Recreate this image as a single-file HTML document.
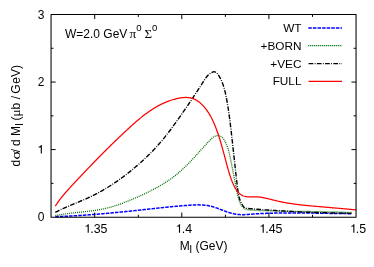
<!DOCTYPE html>
<html><head><meta charset="utf-8"><style>
html,body{margin:0;padding:0;background:#fff;}
svg{display:block;will-change:transform;font-family:"Liberation Sans",sans-serif;font-size:12px;fill:#000;}
.s{font-family:"Liberation Serif",serif;}
</style></head><body>
<svg width="374" height="267" viewBox="0 0 374 267">
<rect width="374" height="267" fill="#fff"/>
<path d="M55.30,216.68 L55.90,216.66 L56.49,216.64 L57.09,216.61 L57.68,216.59 L58.28,216.57 L58.88,216.54 L59.47,216.52 L60.07,216.50 L60.67,216.47 L61.26,216.45 L61.86,216.42 L62.45,216.40 L63.05,216.37 L63.65,216.34 L64.24,216.31 L64.84,216.29 L65.44,216.26 L66.03,216.23 L66.63,216.20 L67.23,216.17 L67.82,216.14 L68.42,216.11 L69.01,216.08 L69.61,216.05 L70.21,216.02 L70.80,215.99 L71.40,215.95 L72.00,215.92 L72.59,215.89 L73.19,215.85 L73.79,215.82 L74.39,215.78 L74.98,215.75 L75.58,215.71 L76.18,215.68 L76.77,215.64 L77.37,215.61 L77.97,215.57 L78.56,215.53 L79.16,215.49 L79.76,215.46 L80.35,215.42 L80.95,215.38 L81.55,215.34 L82.14,215.30 L82.74,215.26 L83.34,215.22 L83.93,215.18 L84.53,215.14 L85.13,215.10 L85.73,215.06 L86.32,215.01 L86.92,214.97 L87.52,214.93 L88.11,214.89 L88.71,214.84 L89.31,214.80 L89.90,214.76 L90.50,214.71 L91.10,214.67 L91.69,214.62 L92.29,214.58 L92.89,214.53 L93.48,214.48 L94.08,214.44 L94.68,214.39 L95.27,214.34 L95.87,214.30 L96.47,214.25 L97.06,214.20 L97.66,214.15 L98.26,214.10 L98.85,214.05 L99.45,214.01 L100.05,213.96 L100.64,213.91 L101.24,213.86 L101.84,213.81 L102.43,213.75 L103.03,213.70 L103.63,213.65 L104.22,213.60 L104.82,213.55 L105.41,213.50 L106.01,213.44 L106.61,213.39 L107.20,213.34 L107.80,213.28 L108.39,213.23 L108.99,213.18 L109.59,213.12 L110.18,213.07 L110.78,213.01 L111.37,212.96 L111.97,212.90 L112.57,212.85 L113.16,212.79 L113.76,212.74 L114.35,212.68 L114.95,212.62 L115.54,212.57 L116.14,212.51 L116.73,212.45 L117.33,212.40 L117.92,212.34 L118.52,212.28 L119.11,212.22 L119.71,212.16 L120.30,212.10 L120.90,212.05 L121.49,211.99 L122.09,211.93 L122.68,211.87 L123.28,211.81 L123.87,211.75 L124.47,211.69 L125.06,211.63 L125.66,211.57 L126.25,211.51 L126.85,211.45 L127.44,211.38 L128.03,211.32 L128.63,211.26 L129.22,211.20 L129.82,211.14 L130.41,211.07 L131.00,211.01 L131.60,210.95 L132.19,210.89 L132.78,210.82 L133.38,210.76 L133.97,210.70 L134.56,210.63 L135.16,210.57 L135.75,210.51 L136.34,210.44 L136.94,210.38 L137.53,210.32 L138.12,210.25 L138.71,210.19 L139.31,210.12 L139.90,210.06 L140.49,209.99 L141.09,209.93 L141.68,209.86 L142.27,209.80 L142.86,209.73 L143.46,209.67 L144.05,209.60 L144.64,209.54 L145.23,209.47 L145.83,209.41 L146.42,209.34 L147.01,209.28 L147.60,209.21 L148.20,209.15 L148.79,209.08 L149.38,209.02 L149.97,208.96 L150.57,208.89 L151.16,208.83 L151.75,208.76 L152.34,208.70 L152.94,208.63 L153.53,208.57 L154.12,208.50 L154.72,208.44 L155.31,208.38 L155.90,208.31 L156.49,208.25 L157.09,208.19 L157.68,208.12 L158.27,208.06 L158.87,208.00 L159.46,207.93 L160.05,207.87 L160.65,207.81 L161.24,207.75 L161.83,207.69 L162.43,207.62 L163.02,207.56 L163.62,207.50 L164.21,207.44 L164.80,207.38 L165.40,207.32 L165.99,207.26 L166.59,207.20 L167.18,207.14 L167.78,207.08 L168.37,207.02 L168.97,206.96 L169.56,206.91 L170.16,206.85 L170.75,206.79 L171.35,206.73 L171.94,206.68 L172.54,206.62 L173.13,206.56 L173.73,206.51 L174.33,206.45 L174.92,206.40 L175.52,206.34 L176.12,206.29 L176.71,206.24 L177.31,206.18 L177.91,206.13 L178.51,206.08 L179.10,206.03 L179.70,205.98 L180.30,205.92 L180.90,205.87 L181.50,205.82 L182.09,205.78 L182.69,205.73 L183.29,205.68 L183.89,205.63 L184.49,205.58 L185.09,205.54 L185.69,205.49 L186.29,205.45 L186.89,205.40 L187.49,205.36 L188.09,205.31 L188.69,205.27 L189.30,205.23 L189.90,205.19 L190.50,205.15 L191.10,205.11 L191.70,205.07 L192.30,205.04 L192.90,205.01 L193.50,204.98 L194.11,204.95 L194.71,204.93 L195.31,204.91 L195.91,204.89 L196.51,204.88 L197.10,204.87 L197.70,204.87 L198.30,204.86 L198.90,204.87 L199.50,204.88 L200.09,204.89 L200.69,204.91 L201.28,204.93 L201.88,204.96 L202.47,204.99 L203.06,205.03 L203.65,205.08 L204.24,205.13 L204.83,205.19 L205.42,205.26 L206.01,205.33 L206.59,205.41 L207.18,205.50 L207.76,205.59 L208.34,205.69 L208.93,205.80 L209.51,205.92 L210.08,206.05 L210.66,206.19 L211.24,206.33 L211.81,206.48 L212.38,206.64 L212.95,206.81 L213.52,206.98 L214.09,207.15 L214.66,207.34 L215.23,207.53 L215.80,207.72 L216.36,207.91 L216.93,208.12 L217.49,208.32 L218.06,208.53 L218.62,208.73 L219.19,208.95 L219.75,209.16 L220.31,209.37 L220.88,209.59 L221.44,209.80 L222.00,210.02 L222.57,210.23 L223.13,210.45 L223.69,210.66 L224.26,210.87 L224.82,211.08 L225.38,211.28 L225.95,211.48 L226.51,211.68 L227.08,211.88 L227.65,212.07 L228.21,212.26 L228.78,212.44 L229.35,212.62 L229.92,212.79 L230.49,212.96 L231.06,213.12 L231.63,213.28 L232.20,213.42 L232.78,213.57 L233.35,213.70 L233.93,213.83 L234.50,213.95 L235.08,214.06 L235.66,214.16 L236.24,214.25 L236.82,214.34 L237.40,214.41 L237.99,214.48 L238.57,214.53 L239.16,214.58 L239.75,214.61 L240.34,214.64 L240.93,214.66 L241.52,214.67 L242.11,214.67 L242.70,214.67 L243.30,214.66 L243.89,214.65 L244.49,214.63 L245.09,214.60 L245.68,214.57 L246.28,214.54 L246.88,214.50 L247.48,214.46 L248.07,214.42 L248.67,214.38 L249.27,214.34 L249.87,214.29 L250.47,214.25 L251.07,214.20 L251.67,214.16 L252.27,214.12 L252.87,214.07 L253.47,214.03 L254.07,213.99 L254.67,213.95 L255.27,213.91 L255.87,213.88 L256.46,213.84 L257.06,213.80 L257.66,213.77 L258.26,213.73 L258.86,213.70 L259.46,213.67 L260.06,213.64 L260.66,213.60 L261.26,213.57 L261.85,213.54 L262.45,213.52 L263.05,213.49 L263.65,213.46 L264.25,213.43 L264.85,213.41 L265.45,213.38 L266.04,213.36 L266.64,213.33 L267.24,213.31 L267.84,213.29 L268.44,213.27 L269.03,213.25 L269.63,213.23 L270.23,213.21 L270.83,213.19 L271.43,213.17 L272.03,213.15 L272.62,213.14 L273.22,213.12 L273.82,213.10 L274.42,213.09 L275.02,213.07 L275.61,213.06 L276.21,213.05 L276.81,213.04 L277.41,213.02 L278.00,213.01 L278.60,213.00 L279.20,212.99 L279.80,212.98 L280.40,212.97 L280.99,212.96 L281.59,212.95 L282.19,212.95 L282.79,212.94 L283.38,212.93 L283.98,212.93 L284.58,212.92 L285.18,212.92 L285.77,212.91 L286.37,212.91 L286.97,212.90 L287.57,212.90 L288.16,212.90 L288.76,212.90 L289.36,212.89 L289.95,212.89 L290.55,212.89 L291.15,212.89 L291.75,212.89 L292.34,212.89 L292.94,212.89 L293.54,212.89 L294.14,212.89 L294.73,212.90 L295.33,212.90 L295.93,212.90 L296.52,212.90 L297.12,212.91 L297.72,212.91 L298.32,212.91 L298.91,212.92 L299.51,212.92 L300.11,212.93 L300.70,212.93 L301.30,212.94 L301.90,212.94 L302.50,212.95 L303.09,212.95 L303.69,212.96 L304.29,212.97 L304.89,212.97 L305.48,212.98 L306.08,212.99 L306.68,213.00 L307.27,213.00 L307.87,213.01 L308.47,213.02 L309.07,213.03 L309.66,213.04 L310.26,213.05 L310.86,213.06 L311.45,213.06 L312.05,213.07 L312.65,213.08 L313.25,213.09 L313.84,213.10 L314.44,213.11 L315.04,213.12 L315.63,213.13 L316.23,213.14 L316.83,213.15 L317.43,213.16 L318.02,213.17 L318.62,213.18 L319.22,213.19 L319.82,213.21 L320.41,213.22 L321.01,213.23 L321.61,213.24 L322.20,213.25 L322.80,213.26 L323.40,213.27 L324.00,213.28 L324.59,213.29 L325.19,213.30 L325.79,213.31 L326.39,213.32 L326.98,213.34 L327.58,213.35 L328.18,213.36 L328.78,213.37 L329.37,213.38 L329.97,213.39 L330.57,213.40 L331.17,213.41 L331.76,213.42 L332.36,213.43 L332.96,213.44 L333.56,213.45 L334.16,213.46 L334.75,213.47 L335.35,213.48 L335.95,213.49 L336.55,213.50 L337.15,213.51 L337.74,213.52 L338.34,213.53 L338.94,213.54 L339.54,213.54 L340.14,213.55 L340.73,213.56 L341.33,213.57 L341.93,213.58 L342.53,213.58 L343.13,213.59 L343.72,213.60 L344.32,213.61 L344.92,213.61 L345.52,213.62 L346.12,213.62 L346.72,213.63 L347.31,213.64 L347.91,213.64 L348.51,213.65 L349.11,213.65 L349.71,213.66 L350.31,213.66 L350.91,213.66 L351.51,213.67" fill="none" stroke="#0000ff" stroke-width="1.5" stroke-dasharray="3.5 1.1"/>
<path d="M55.34,215.64 L56.06,215.49 L56.78,215.34 L57.51,215.20 L58.24,215.07 L58.97,214.93 L59.70,214.80 L60.43,214.68 L61.16,214.55 L61.90,214.44 L62.64,214.32 L63.38,214.21 L64.12,214.10 L64.86,213.99 L65.60,213.89 L66.34,213.78 L67.09,213.68 L67.83,213.59 L68.58,213.49 L69.32,213.40 L70.07,213.31 L70.82,213.22 L71.57,213.13 L72.32,213.04 L73.07,212.96 L73.82,212.87 L74.58,212.79 L75.33,212.71 L76.08,212.63 L76.83,212.54 L77.59,212.46 L78.34,212.38 L79.10,212.30 L79.85,212.22 L80.61,212.14 L81.36,212.06 L82.11,211.98 L82.87,211.90 L83.62,211.82 L84.38,211.73 L85.13,211.65 L85.89,211.56 L86.64,211.48 L87.39,211.39 L88.15,211.30 L88.90,211.21 L89.65,211.12 L90.40,211.02 L91.15,210.92 L91.90,210.83 L92.65,210.72 L93.40,210.62 L94.15,210.51 L94.90,210.40 L95.64,210.29 L96.39,210.18 L97.13,210.06 L97.87,209.94 L98.62,209.81 L99.36,209.68 L100.10,209.55 L100.83,209.41 L101.57,209.27 L102.31,209.13 L103.04,208.98 L103.77,208.83 L104.50,208.67 L105.23,208.50 L105.96,208.34 L106.69,208.16 L107.41,207.99 L108.13,207.80 L108.85,207.62 L109.57,207.42 L110.29,207.23 L111.01,207.03 L111.72,206.82 L112.44,206.61 L113.15,206.40 L113.86,206.18 L114.57,205.96 L115.28,205.73 L115.99,205.50 L116.69,205.27 L117.40,205.03 L118.10,204.79 L118.81,204.54 L119.51,204.30 L120.21,204.05 L120.91,203.79 L121.61,203.53 L122.31,203.28 L123.01,203.01 L123.71,202.75 L124.40,202.48 L125.10,202.21 L125.80,201.94 L126.49,201.66 L127.19,201.38 L127.88,201.10 L128.58,200.82 L129.27,200.54 L129.97,200.25 L130.66,199.96 L131.35,199.67 L132.05,199.38 L132.74,199.09 L133.43,198.80 L134.13,198.50 L134.82,198.21 L135.51,197.91 L136.21,197.61 L136.90,197.31 L137.59,197.01 L138.28,196.70 L138.97,196.39 L139.67,196.09 L140.36,195.78 L141.05,195.46 L141.73,195.15 L142.42,194.84 L143.11,194.52 L143.80,194.20 L144.48,193.88 L145.17,193.55 L145.85,193.23 L146.54,192.90 L147.22,192.57 L147.90,192.24 L148.58,191.91 L149.26,191.57 L149.93,191.23 L150.61,190.89 L151.28,190.55 L151.96,190.20 L152.63,189.85 L153.30,189.50 L153.97,189.15 L154.64,188.79 L155.30,188.43 L155.97,188.07 L156.63,187.71 L157.29,187.34 L157.95,186.97 L158.60,186.60 L159.26,186.23 L159.91,185.85 L160.56,185.47 L161.21,185.09 L161.86,184.70 L162.50,184.31 L163.14,183.92 L163.78,183.52 L164.42,183.13 L165.06,182.73 L165.69,182.32 L166.32,181.91 L166.95,181.50 L167.57,181.09 L168.20,180.67 L168.82,180.25 L169.43,179.83 L170.05,179.40 L170.66,178.97 L171.27,178.53 L171.87,178.10 L172.48,177.65 L173.08,177.21 L173.67,176.76 L174.27,176.31 L174.86,175.85 L175.45,175.39 L176.03,174.93 L176.61,174.46 L177.19,173.99 L177.76,173.52 L178.33,173.04 L178.90,172.55 L179.46,172.07 L180.02,171.58 L180.58,171.09 L181.14,170.59 L181.69,170.09 L182.24,169.59 L182.79,169.08 L183.33,168.57 L183.87,168.06 L184.41,167.54 L184.95,167.03 L185.49,166.51 L186.02,165.98 L186.55,165.46 L187.08,164.93 L187.60,164.40 L188.13,163.87 L188.65,163.33 L189.17,162.79 L189.69,162.26 L190.21,161.71 L190.73,161.17 L191.25,160.63 L191.76,160.08 L192.27,159.53 L192.79,158.98 L193.30,158.43 L193.81,157.88 L194.32,157.33 L194.83,156.77 L195.34,156.22 L195.84,155.66 L196.35,155.10 L196.86,154.54 L197.36,153.98 L197.87,153.42 L198.38,152.86 L198.88,152.30 L199.39,151.74 L199.89,151.18 L200.40,150.62 L200.91,150.05 L201.42,149.49 L201.92,148.93 L202.43,148.37 L202.94,147.80 L203.45,147.24 L203.96,146.68 L204.47,146.12 L204.98,145.56 L205.49,145.00 L206.01,144.44 L206.52,143.88 L207.04,143.32 L207.56,142.76 L208.08,142.21 L208.60,141.65 L209.12,141.10 L209.65,140.54 L210.17,139.99 L210.70,139.45 L211.24,138.91 L211.78,138.40 L212.34,137.91 L212.91,137.45 L213.49,137.03 L214.10,136.66 L214.72,136.34 L215.37,136.08 L216.05,135.88 L216.76,135.75 L217.49,135.71 L218.26,135.74 L219.05,135.86 L219.83,136.07 L220.58,136.35 L221.28,136.70 L221.92,137.13 L222.49,137.63 L223.00,138.18 L223.47,138.78 L223.89,139.41 L224.29,140.06 L224.67,140.71 L225.03,141.38 L225.37,142.05 L225.71,142.73 L226.02,143.41 L226.33,144.09 L226.62,144.78 L226.90,145.48 L227.17,146.18 L227.43,146.88 L227.67,147.59 L227.91,148.30 L228.13,149.02 L228.35,149.74 L228.56,150.46 L228.76,151.18 L228.95,151.91 L229.14,152.64 L229.32,153.37 L229.50,154.10 L229.66,154.83 L229.83,155.57 L229.99,156.31 L230.15,157.04 L230.30,157.78 L230.45,158.52 L230.60,159.26 L230.74,160.00 L230.89,160.74 L231.04,161.48 L231.18,162.22 L231.32,162.95 L231.47,163.69 L231.61,164.43 L231.76,165.17 L231.90,165.91 L232.04,166.64 L232.18,167.38 L232.33,168.12 L232.47,168.85 L232.61,169.59 L232.76,170.32 L232.90,171.06 L233.04,171.80 L233.19,172.53 L233.33,173.27 L233.48,174.00 L233.62,174.74 L233.77,175.47 L233.91,176.21 L234.06,176.94 L234.21,177.68 L234.36,178.41 L234.51,179.15 L234.65,179.88 L234.80,180.62 L234.95,181.35 L235.10,182.09 L235.25,182.83 L235.39,183.56 L235.54,184.30 L235.69,185.04 L235.83,185.78 L235.98,186.51 L236.12,187.25 L236.26,187.99 L236.40,188.73 L236.54,189.47 L236.68,190.21 L236.82,190.96 L236.96,191.70 L237.10,192.44 L237.24,193.18 L237.39,193.92 L237.54,194.66 L237.70,195.40 L237.86,196.13 L238.04,196.86 L238.22,197.59 L238.42,198.32 L238.63,199.04 L238.85,199.75 L239.09,200.46 L239.35,201.17 L239.62,201.87 L239.92,202.56 L240.23,203.25 L240.57,203.93 L240.92,204.60 L241.31,205.25 L241.72,205.89 L242.16,206.50 L242.64,207.07 L243.15,207.59 L243.70,208.06 L244.29,208.48 L244.93,208.82 L245.61,209.10 L246.33,209.32 L247.07,209.49 L247.82,209.63 L248.58,209.75 L249.34,209.86 L250.10,209.95 L250.86,210.03 L251.62,210.10 L252.37,210.16 L253.12,210.22 L253.88,210.27 L254.63,210.31 L255.38,210.35 L256.13,210.38 L256.88,210.42 L257.63,210.45 L258.38,210.48 L259.13,210.50 L259.88,210.53 L260.63,210.56 L261.38,210.59 L262.13,210.61 L262.88,210.64 L263.63,210.66 L264.38,210.69 L265.13,210.71 L265.88,210.73 L266.63,210.76 L267.38,210.78 L268.13,210.80 L268.88,210.82 L269.63,210.84 L270.38,210.86 L271.13,210.88 L271.88,210.90 L272.63,210.92 L273.38,210.94 L274.13,210.95 L274.88,210.97 L275.63,210.99 L276.38,211.01 L277.14,211.02 L277.89,211.04 L278.64,211.05 L279.39,211.07 L280.14,211.08 L280.89,211.10 L281.64,211.11 L282.39,211.12 L283.14,211.14 L283.89,211.15 L284.64,211.16 L285.40,211.18 L286.15,211.19 L286.90,211.20 L287.65,211.21 L288.40,211.22 L289.15,211.24 L289.90,211.25 L290.65,211.26 L291.40,211.27 L292.16,211.28 L292.91,211.29 L293.66,211.30 L294.41,211.31 L295.16,211.32 L295.91,211.33 L296.66,211.34 L297.42,211.35 L298.17,211.36 L298.92,211.37 L299.67,211.38 L300.42,211.39 L301.17,211.40 L301.92,211.41 L302.67,211.42 L303.43,211.42 L304.18,211.43 L304.93,211.44 L305.68,211.45 L306.43,211.46 L307.18,211.47 L307.93,211.48 L308.69,211.49 L309.44,211.50 L310.19,211.51 L310.94,211.52 L311.69,211.53 L312.44,211.54 L313.20,211.55 L313.95,211.56 L314.70,211.57 L315.45,211.58 L316.20,211.59 L316.95,211.60 L317.70,211.62 L318.46,211.63 L319.21,211.64 L319.96,211.65 L320.71,211.66 L321.46,211.68 L322.21,211.69 L322.96,211.70 L323.71,211.72 L324.47,211.73 L325.22,211.74 L325.97,211.76 L326.72,211.77 L327.47,211.79 L328.22,211.80 L328.97,211.82 L329.72,211.84 L330.48,211.85 L331.23,211.87 L331.98,211.89 L332.73,211.90 L333.48,211.92 L334.23,211.94 L334.98,211.96 L335.73,211.98 L336.48,212.00 L337.24,212.02 L337.99,212.04 L338.74,212.06 L339.49,212.09 L340.24,212.11 L340.99,212.13 L341.74,212.15 L342.49,212.18 L343.24,212.20 L343.99,212.23 L344.74,212.26 L345.49,212.28 L346.25,212.31 L347.00,212.34 L347.75,212.37 L348.50,212.40 L349.25,212.43 L350.00,212.46 L350.75,212.49 L351.50,212.52" fill="none" stroke="#007000" stroke-width="1.3" stroke-dasharray="1 1"/>
<path d="M55.27,212.42 L56.09,211.99 L56.92,211.56 L57.75,211.13 L58.58,210.71 L59.42,210.30 L60.26,209.89 L61.10,209.49 L61.94,209.10 L62.79,208.70 L63.64,208.32 L64.49,207.93 L65.34,207.55 L66.19,207.17 L67.05,206.80 L67.91,206.43 L68.77,206.06 L69.62,205.70 L70.49,205.33 L71.35,204.97 L72.21,204.61 L73.07,204.25 L73.94,203.89 L74.80,203.53 L75.67,203.18 L76.53,202.82 L77.39,202.46 L78.26,202.10 L79.12,201.74 L79.99,201.38 L80.85,201.02 L81.71,200.66 L82.57,200.29 L83.43,199.92 L84.29,199.55 L85.15,199.18 L86.00,198.80 L86.86,198.42 L87.71,198.04 L88.56,197.65 L89.41,197.26 L90.25,196.86 L91.10,196.46 L91.94,196.05 L92.78,195.64 L93.61,195.23 L94.45,194.81 L95.28,194.38 L96.11,193.95 L96.94,193.52 L97.76,193.08 L98.58,192.64 L99.41,192.19 L100.22,191.74 L101.04,191.28 L101.85,190.82 L102.66,190.36 L103.47,189.89 L104.28,189.42 L105.08,188.94 L105.89,188.46 L106.69,187.98 L107.48,187.49 L108.28,187.00 L109.07,186.50 L109.86,186.00 L110.65,185.50 L111.44,184.99 L112.22,184.48 L113.00,183.97 L113.78,183.45 L114.56,182.93 L115.33,182.41 L116.11,181.88 L116.88,181.34 L117.64,180.81 L118.41,180.27 L119.17,179.73 L119.93,179.18 L120.69,178.64 L121.45,178.09 L122.20,177.53 L122.96,176.97 L123.71,176.41 L124.46,175.85 L125.20,175.28 L125.94,174.71 L126.69,174.14 L127.42,173.57 L128.16,172.99 L128.90,172.41 L129.63,171.83 L130.36,171.24 L131.09,170.65 L131.81,170.06 L132.54,169.47 L133.26,168.87 L133.98,168.27 L134.69,167.67 L135.41,167.07 L136.12,166.46 L136.83,165.86 L137.54,165.24 L138.24,164.63 L138.95,164.02 L139.65,163.40 L140.34,162.78 L141.04,162.15 L141.73,161.53 L142.42,160.90 L143.11,160.26 L143.80,159.63 L144.48,158.99 L145.16,158.35 L145.84,157.71 L146.51,157.07 L147.18,156.42 L147.85,155.77 L148.52,155.11 L149.18,154.46 L149.84,153.80 L150.50,153.14 L151.16,152.47 L151.81,151.81 L152.46,151.14 L153.11,150.46 L153.75,149.79 L154.39,149.11 L155.03,148.43 L155.66,147.74 L156.29,147.05 L156.92,146.36 L157.55,145.67 L158.17,144.97 L158.79,144.27 L159.40,143.57 L160.01,142.86 L160.62,142.16 L161.23,141.44 L161.83,140.73 L162.43,140.01 L163.03,139.29 L163.62,138.57 L164.21,137.84 L164.80,137.12 L165.38,136.39 L165.96,135.65 L166.54,134.92 L167.12,134.18 L167.69,133.44 L168.27,132.70 L168.84,131.96 L169.40,131.21 L169.97,130.46 L170.53,129.71 L171.09,128.96 L171.65,128.21 L172.21,127.46 L172.76,126.70 L173.32,125.95 L173.87,125.19 L174.42,124.43 L174.97,123.68 L175.52,122.92 L176.06,122.16 L176.61,121.39 L177.15,120.63 L177.69,119.87 L178.23,119.11 L178.77,118.34 L179.31,117.58 L179.85,116.82 L180.39,116.05 L180.92,115.29 L181.46,114.52 L181.99,113.75 L182.53,112.99 L183.06,112.22 L183.59,111.45 L184.12,110.68 L184.65,109.92 L185.18,109.15 L185.71,108.38 L186.23,107.61 L186.76,106.84 L187.28,106.07 L187.81,105.29 L188.33,104.52 L188.85,103.75 L189.38,102.97 L189.90,102.20 L190.42,101.43 L190.94,100.65 L191.46,99.88 L191.98,99.10 L192.49,98.32 L193.01,97.54 L193.53,96.77 L194.04,95.99 L194.56,95.21 L195.07,94.43 L195.59,93.65 L196.10,92.87 L196.61,92.09 L197.13,91.30 L197.64,90.52 L198.15,89.74 L198.66,88.95 L199.17,88.17 L199.68,87.38 L200.19,86.60 L200.70,85.81 L201.21,85.02 L201.71,84.23 L202.22,83.44 L202.73,82.65 L203.23,81.86 L203.74,81.07 L204.25,80.28 L204.76,79.49 L205.28,78.71 L205.81,77.95 L206.37,77.19 L206.95,76.46 L207.56,75.75 L208.20,75.07 L208.89,74.43 L209.62,73.82 L210.40,73.26 L211.24,72.74 L212.14,72.27 L213.06,71.92 L213.94,71.75 L214.77,71.82 L215.53,72.09 L216.23,72.54 L216.88,73.13 L217.49,73.82 L218.06,74.59 L218.60,75.40 L219.11,76.21 L219.60,77.04 L220.07,77.87 L220.51,78.71 L220.93,79.56 L221.34,80.41 L221.72,81.27 L222.08,82.14 L222.43,83.01 L222.76,83.88 L223.07,84.76 L223.37,85.65 L223.66,86.54 L223.93,87.43 L224.19,88.33 L224.44,89.23 L224.67,90.13 L224.90,91.04 L225.12,91.95 L225.33,92.86 L225.53,93.77 L225.73,94.69 L225.92,95.60 L226.11,96.52 L226.29,97.44 L226.47,98.36 L226.64,99.28 L226.81,100.20 L226.98,101.12 L227.15,102.04 L227.31,102.96 L227.46,103.88 L227.62,104.81 L227.77,105.73 L227.92,106.66 L228.07,107.58 L228.21,108.51 L228.35,109.43 L228.49,110.36 L228.62,111.29 L228.76,112.22 L228.89,113.14 L229.02,114.07 L229.15,115.00 L229.27,115.93 L229.40,116.85 L229.52,117.78 L229.64,118.71 L229.76,119.64 L229.88,120.57 L230.00,121.50 L230.11,122.42 L230.23,123.35 L230.34,124.28 L230.45,125.21 L230.57,126.14 L230.68,127.06 L230.79,127.99 L230.90,128.92 L231.01,129.84 L231.12,130.77 L231.23,131.70 L231.33,132.62 L231.44,133.55 L231.55,134.48 L231.65,135.40 L231.76,136.33 L231.86,137.26 L231.97,138.18 L232.07,139.11 L232.17,140.03 L232.28,140.96 L232.38,141.89 L232.48,142.81 L232.58,143.74 L232.69,144.66 L232.79,145.59 L232.89,146.52 L232.99,147.44 L233.09,148.37 L233.19,149.30 L233.29,150.22 L233.39,151.15 L233.49,152.07 L233.59,153.00 L233.69,153.93 L233.79,154.86 L233.89,155.78 L234.00,156.71 L234.10,157.64 L234.20,158.57 L234.30,159.49 L234.40,160.42 L234.50,161.35 L234.60,162.28 L234.70,163.21 L234.80,164.14 L234.91,165.06 L235.01,165.99 L235.11,166.92 L235.21,167.85 L235.32,168.78 L235.42,169.71 L235.52,170.65 L235.63,171.58 L235.73,172.51 L235.84,173.44 L235.95,174.37 L236.05,175.30 L236.16,176.24 L236.27,177.17 L236.38,178.10 L236.49,179.04 L236.60,179.97 L236.71,180.91 L236.82,181.84 L236.93,182.78 L237.04,183.72 L237.16,184.65 L237.27,185.59 L237.38,186.53 L237.50,187.47 L237.62,188.40 L237.74,189.34 L237.87,190.28 L238.00,191.21 L238.14,192.14 L238.30,193.07 L238.46,193.99 L238.64,194.91 L238.84,195.82 L239.05,196.72 L239.28,197.61 L239.53,198.50 L239.81,199.37 L240.11,200.24 L240.44,201.09 L240.79,201.94 L241.18,202.76 L241.60,203.58 L242.05,204.38 L242.54,205.17 L243.06,205.93 L243.63,206.67 L244.28,207.31 L245.03,207.80 L245.88,208.13 L246.80,208.34 L247.77,208.47 L248.74,208.56 L249.71,208.65 L250.67,208.73 L251.62,208.81 L252.56,208.89 L253.50,208.96 L254.43,209.03 L255.35,209.10 L256.28,209.17 L257.20,209.23 L258.13,209.30 L259.05,209.37 L259.98,209.43 L260.91,209.50 L261.84,209.57 L262.77,209.63 L263.70,209.70 L264.63,209.76 L265.56,209.83 L266.50,209.89 L267.43,209.96 L268.36,210.02 L269.30,210.09 L270.23,210.15 L271.17,210.21 L272.10,210.28 L273.04,210.34 L273.97,210.40 L274.91,210.46 L275.84,210.52 L276.77,210.59 L277.71,210.65 L278.64,210.71 L279.58,210.77 L280.51,210.82 L281.44,210.88 L282.38,210.94 L283.31,211.00 L284.24,211.05 L285.18,211.11 L286.11,211.17 L287.04,211.22 L287.98,211.27 L288.91,211.33 L289.84,211.38 L290.77,211.43 L291.71,211.48 L292.64,211.53 L293.57,211.58 L294.51,211.63 L295.44,211.68 L296.37,211.73 L297.31,211.77 L298.24,211.82 L299.17,211.86 L300.11,211.90 L301.04,211.95 L301.97,211.99 L302.91,212.03 L303.84,212.07 L304.77,212.11 L305.71,212.14 L306.64,212.18 L307.58,212.22 L308.51,212.25 L309.44,212.29 L310.38,212.32 L311.31,212.36 L312.25,212.39 L313.18,212.42 L314.11,212.45 L315.05,212.48 L315.98,212.51 L316.92,212.54 L317.85,212.57 L318.79,212.60 L319.72,212.63 L320.66,212.65 L321.59,212.68 L322.53,212.71 L323.46,212.73 L324.40,212.76 L325.33,212.78 L326.26,212.81 L327.20,212.83 L328.13,212.85 L329.07,212.88 L330.00,212.90 L330.94,212.92 L331.87,212.95 L332.81,212.97 L333.74,212.99 L334.68,213.01 L335.61,213.03 L336.55,213.06 L337.48,213.08 L338.42,213.10 L339.35,213.12 L340.29,213.14 L341.22,213.16 L342.16,213.18 L343.09,213.21 L344.03,213.23 L344.96,213.25 L345.89,213.27 L346.83,213.29 L347.76,213.31 L348.70,213.33 L349.63,213.36 L350.57,213.38 L351.50,213.40" fill="none" stroke="#000" stroke-width="1.4" stroke-dasharray="4.7 1.35 0.85 1.35"/>
<path d="M55.34,206.04 L55.79,205.34 L56.24,204.65 L56.69,203.97 L57.16,203.29 L57.62,202.61 L58.10,201.94 L58.57,201.28 L59.06,200.62 L59.55,199.96 L60.04,199.31 L60.54,198.67 L61.04,198.02 L61.54,197.39 L62.05,196.75 L62.57,196.12 L63.09,195.49 L63.61,194.87 L64.13,194.24 L64.66,193.62 L65.19,193.01 L65.72,192.39 L66.26,191.78 L66.80,191.17 L67.34,190.56 L67.88,189.96 L68.43,189.35 L68.97,188.75 L69.52,188.15 L70.07,187.55 L70.62,186.95 L71.17,186.35 L71.73,185.75 L72.28,185.15 L72.83,184.56 L73.39,183.96 L73.94,183.36 L74.50,182.77 L75.06,182.17 L75.61,181.57 L76.17,180.98 L76.73,180.38 L77.29,179.78 L77.84,179.19 L78.40,178.59 L78.96,178.00 L79.52,177.40 L80.08,176.81 L80.64,176.21 L81.20,175.62 L81.77,175.02 L82.33,174.43 L82.89,173.84 L83.45,173.24 L84.02,172.65 L84.58,172.06 L85.14,171.46 L85.71,170.87 L86.27,170.28 L86.84,169.69 L87.40,169.10 L87.97,168.51 L88.53,167.92 L89.10,167.33 L89.67,166.74 L90.23,166.15 L90.80,165.56 L91.37,164.97 L91.94,164.39 L92.51,163.80 L93.07,163.21 L93.64,162.63 L94.21,162.04 L94.78,161.46 L95.35,160.87 L95.92,160.29 L96.49,159.71 L97.06,159.12 L97.63,158.54 L98.20,157.96 L98.78,157.38 L99.35,156.80 L99.92,156.22 L100.49,155.64 L101.06,155.06 L101.64,154.48 L102.21,153.90 L102.78,153.32 L103.36,152.75 L103.93,152.17 L104.51,151.59 L105.08,151.02 L105.66,150.44 L106.24,149.87 L106.81,149.30 L107.39,148.72 L107.97,148.15 L108.55,147.58 L109.13,147.01 L109.70,146.44 L110.28,145.86 L110.87,145.29 L111.45,144.72 L112.03,144.16 L112.61,143.59 L113.19,143.02 L113.78,142.45 L114.36,141.88 L114.95,141.32 L115.53,140.75 L116.12,140.19 L116.71,139.62 L117.29,139.06 L117.88,138.49 L118.47,137.93 L119.06,137.37 L119.65,136.80 L120.24,136.24 L120.84,135.68 L121.43,135.12 L122.02,134.56 L122.62,134.00 L123.21,133.44 L123.81,132.88 L124.41,132.32 L125.01,131.76 L125.61,131.20 L126.21,130.65 L126.81,130.09 L127.41,129.53 L128.01,128.98 L128.62,128.42 L129.22,127.87 L129.83,127.31 L130.43,126.76 L131.04,126.21 L131.65,125.66 L132.26,125.11 L132.88,124.56 L133.49,124.01 L134.10,123.47 L134.72,122.93 L135.34,122.38 L135.96,121.84 L136.58,121.31 L137.20,120.77 L137.83,120.24 L138.45,119.71 L139.08,119.19 L139.71,118.66 L140.34,118.14 L140.98,117.63 L141.61,117.11 L142.25,116.60 L142.89,116.10 L143.53,115.59 L144.18,115.10 L144.82,114.60 L145.47,114.11 L146.12,113.63 L146.78,113.14 L147.43,112.67 L148.09,112.20 L148.76,111.73 L149.42,111.27 L150.09,110.81 L150.76,110.36 L151.43,109.91 L152.11,109.47 L152.78,109.04 L153.47,108.61 L154.15,108.18 L154.84,107.76 L155.54,107.35 L156.23,106.94 L156.93,106.54 L157.64,106.15 L158.34,105.76 L159.06,105.38 L159.77,105.01 L160.49,104.64 L161.22,104.28 L161.94,103.92 L162.68,103.58 L163.41,103.24 L164.16,102.90 L164.90,102.58 L165.65,102.26 L166.41,101.95 L167.17,101.65 L167.94,101.35 L168.71,101.06 L169.49,100.78 L170.27,100.51 L171.06,100.25 L171.85,100.00 L172.65,99.75 L173.45,99.51 L174.26,99.28 L175.08,99.06 L175.90,98.85 L176.72,98.65 L177.55,98.46 L178.38,98.28 L179.21,98.12 L180.05,97.98 L180.88,97.85 L181.72,97.73 L182.55,97.64 L183.38,97.57 L184.21,97.51 L185.03,97.48 L185.85,97.47 L186.66,97.49 L187.47,97.53 L188.27,97.60 L189.07,97.69 L189.85,97.81 L190.62,97.97 L191.39,98.15 L192.14,98.37 L192.88,98.61 L193.62,98.89 L194.34,99.19 L195.05,99.53 L195.74,99.88 L196.43,100.27 L197.11,100.68 L197.77,101.11 L198.43,101.57 L199.07,102.04 L199.71,102.54 L200.33,103.06 L200.94,103.60 L201.54,104.15 L202.13,104.72 L202.70,105.31 L203.27,105.91 L203.83,106.53 L204.37,107.16 L204.91,107.80 L205.43,108.45 L205.94,109.11 L206.44,109.78 L206.93,110.46 L207.41,111.14 L207.88,111.83 L208.34,112.52 L208.79,113.22 L209.22,113.92 L209.65,114.63 L210.06,115.34 L210.47,116.06 L210.87,116.78 L211.26,117.50 L211.64,118.22 L212.01,118.95 L212.37,119.68 L212.73,120.42 L213.08,121.16 L213.42,121.90 L213.75,122.64 L214.08,123.39 L214.40,124.14 L214.71,124.89 L215.02,125.64 L215.32,126.39 L215.62,127.15 L215.92,127.91 L216.20,128.67 L216.49,129.43 L216.77,130.19 L217.04,130.96 L217.32,131.72 L217.59,132.49 L217.85,133.26 L218.11,134.03 L218.37,134.80 L218.63,135.57 L218.88,136.34 L219.13,137.12 L219.38,137.89 L219.62,138.67 L219.86,139.44 L220.10,140.22 L220.34,141.00 L220.57,141.78 L220.80,142.56 L221.03,143.34 L221.26,144.12 L221.48,144.91 L221.71,145.69 L221.93,146.47 L222.15,147.26 L222.37,148.05 L222.59,148.83 L222.80,149.62 L223.02,150.41 L223.23,151.19 L223.45,151.98 L223.66,152.77 L223.87,153.56 L224.08,154.35 L224.29,155.14 L224.50,155.93 L224.71,156.72 L224.92,157.51 L225.13,158.30 L225.34,159.09 L225.55,159.89 L225.76,160.68 L225.97,161.47 L226.18,162.26 L226.39,163.05 L226.60,163.84 L226.81,164.63 L227.03,165.42 L227.24,166.21 L227.46,167.00 L227.68,167.79 L227.90,168.57 L228.13,169.36 L228.35,170.14 L228.58,170.92 L228.81,171.70 L229.04,172.48 L229.28,173.26 L229.52,174.03 L229.76,174.80 L230.01,175.57 L230.26,176.33 L230.51,177.10 L230.77,177.86 L231.04,178.61 L231.30,179.37 L231.57,180.12 L231.85,180.87 L232.14,181.61 L232.43,182.36 L232.74,183.10 L233.06,183.84 L233.40,184.59 L233.75,185.34 L234.12,186.08 L234.51,186.83 L234.91,187.57 L235.34,188.31 L235.79,189.03 L236.25,189.74 L236.74,190.43 L237.25,191.10 L237.78,191.75 L238.34,192.37 L238.91,192.96 L239.51,193.52 L240.13,194.05 L240.77,194.53 L241.44,194.97 L242.14,195.37 L242.85,195.72 L243.60,196.01 L244.36,196.25 L245.15,196.45 L245.96,196.60 L246.77,196.71 L247.60,196.78 L248.43,196.83 L249.25,196.85 L250.08,196.86 L250.90,196.85 L251.72,196.83 L252.54,196.80 L253.35,196.78 L254.17,196.76 L254.98,196.76 L255.79,196.76 L256.60,196.79 L257.41,196.85 L258.22,196.92 L259.03,197.01 L259.83,197.11 L260.64,197.23 L261.44,197.36 L262.25,197.49 L263.05,197.64 L263.85,197.79 L264.65,197.96 L265.45,198.13 L266.25,198.30 L267.04,198.48 L267.84,198.67 L268.64,198.86 L269.43,199.05 L270.23,199.25 L271.02,199.45 L271.82,199.65 L272.61,199.85 L273.41,200.05 L274.20,200.25 L275.00,200.44 L275.79,200.64 L276.59,200.83 L277.39,201.01 L278.18,201.20 L278.98,201.37 L279.78,201.55 L280.58,201.72 L281.38,201.88 L282.18,202.04 L282.98,202.20 L283.79,202.35 L284.59,202.50 L285.39,202.65 L286.19,202.79 L287.00,202.93 L287.80,203.07 L288.61,203.20 L289.41,203.33 L290.22,203.46 L291.02,203.58 L291.83,203.70 L292.64,203.82 L293.45,203.93 L294.25,204.05 L295.06,204.15 L295.87,204.26 L296.68,204.37 L297.49,204.47 L298.30,204.57 L299.11,204.67 L299.92,204.76 L300.73,204.85 L301.54,204.95 L302.35,205.04 L303.16,205.12 L303.97,205.21 L304.78,205.29 L305.60,205.38 L306.41,205.46 L307.22,205.54 L308.03,205.62 L308.85,205.70 L309.66,205.77 L310.47,205.85 L311.28,205.92 L312.10,206.00 L312.91,206.07 L313.72,206.14 L314.54,206.22 L315.35,206.29 L316.16,206.36 L316.98,206.43 L317.79,206.50 L318.60,206.57 L319.42,206.64 L320.23,206.71 L321.04,206.78 L321.86,206.85 L322.67,206.92 L323.48,206.99 L324.30,207.06 L325.11,207.13 L325.92,207.20 L326.74,207.27 L327.55,207.34 L328.36,207.41 L329.18,207.48 L329.99,207.55 L330.80,207.62 L331.62,207.69 L332.43,207.76 L333.24,207.83 L334.05,207.90 L334.87,207.97 L335.68,208.04 L336.49,208.11 L337.31,208.18 L338.12,208.25 L338.93,208.32 L339.75,208.39 L340.56,208.46 L341.37,208.54 L342.18,208.61 L343.00,208.68 L343.81,208.75 L344.62,208.83 L345.44,208.90 L346.25,208.98 L347.06,209.05 L347.87,209.13 L348.69,209.20 L349.50,209.28 L350.31,209.35 L351.12,209.43 L351.94,209.51 L352.75,209.58 L353.56,209.66 L354.38,209.74 L355.19,209.82 L356.00,209.90" fill="none" stroke="#ff0000" stroke-width="1.25"/>
<rect x="51.05" y="14.5" width="305.0" height="202.65" fill="none" stroke="#000" stroke-width="1.05" stroke-linejoin="round"/>
<path d="M94.7,217.15v-4.6 M94.7,14.5v4.6 M181.8,217.15v-4.6 M181.8,14.5v4.6 M268.9,217.15v-4.6 M268.9,14.5v4.6 M138.3,217.15v-2.4 M138.3,14.5v2.4 M225.4,217.15v-2.4 M225.4,14.5v2.4 M312.5,217.15v-2.4 M312.5,14.5v2.4 M51.05,149.60h4.6 M356.05,149.60h-4.6 M51.05,82.05h4.6 M356.05,82.05h-4.6 M51.05,183.38h2.4 M356.05,183.38h-2.4 M51.05,115.83h2.4 M356.05,115.83h-2.4 M51.05,48.28h2.4 M356.05,48.28h-2.4" fill="none" stroke="#000" stroke-width="1"/>
<!-- legend -->
<path d="M308.3,27.95H342" stroke="#0000ff" stroke-width="1.6" stroke-dasharray="3.5 1.1"/>
<path d="M308,45.55H341.6" stroke="#1c8830" stroke-width="1.15" stroke-dasharray="1.35 0.65"/>
<path d="M308.6,63.5H342" stroke="#000" stroke-width="1.25" stroke-dasharray="4.7 1.35 0.85 1.35"/>
<path d="M308.5,81.45H342" stroke="#ff0000" stroke-width="1.25"/>
<g text-anchor="end">
<text x="301.5" y="32" font-size="11.8">WT</text>
<text x="301.5" y="49.7" font-size="11.8">+BORN</text>
<text x="301.5" y="67.6" font-size="11.8">+VEC</text>
<text x="301.5" y="85.1" font-size="11.8">FULL</text>
<text x="44.5" y="18.6">3</text>
<text x="44.5" y="86.1">2</text>
<text x="44.5" y="221.1">0</text>
</g>
<path d="M40.75,153.60V147.40H38.50V146.70C39.70,146.60 40.55,145.90 41.00,145.00H41.85V153.60Z"/>
<path d="M87.65,232.80V226.60H85.40V225.90C86.60,225.80 87.45,225.10 87.90,224.20H88.75V232.80Z"/><text x="90.2" y="232.8" font-size="12.4">.35</text>
<path d="M178.95,232.80V226.60H176.70V225.90C177.90,225.80 178.75,225.10 179.20,224.20H180.05V232.80Z"/><text x="181.8" y="232.8" font-size="12.4">.4</text>
<path d="M262.65,232.80V226.60H260.40V225.90C261.60,225.80 262.45,225.10 262.90,224.20H263.75V232.80Z"/><text x="265.2" y="232.8" font-size="12.4">.45</text>
<path d="M353.30,232.80V226.60H351.05V225.90C352.25,225.80 353.10,225.10 353.55,224.20H354.40V232.80Z"/><text x="355.85" y="232.8" font-size="12.4">.5</text>
<text x="179.8" y="249.9">M</text><text x="189.3" y="252.9" font-size="10.6">I</text><text x="195.5" y="249.9">(GeV)</text>
<text x="65" y="37.6">W=2.0 GeV</text>
<text x="129.6" y="37.6" class="s" font-size="13.2">π</text><text x="136.2" y="31.3" font-size="9.6">0</text>
<text x="144.6" y="37.6" class="s" font-size="13">Σ</text><text x="152.0" y="31.3" font-size="9.6">0</text>
<g transform="translate(19.7,167.0) rotate(-90)">
<text x="0.50" y="0" >d</text>
<text transform="translate(7.50,0) scale(1.2,1)" class="s" font-size="13.5">σ</text>
<text x="14.70" y="0" >/</text>
<text x="21.10" y="0" >d</text>
<text x="30.90" y="0" >M</text>
<text x="41.00" y="2.8" font-size="10.6">I</text>
<text x="46.40" y="0" >(</text>
<text x="50.40" y="0" class="s" font-size="13">μ</text>
<text x="57.40" y="0" >b</text>
<text x="67.80" y="0" >/</text>
<text x="73.30" y="0">G</text><text x="83.20" y="0">e</text><text x="90.10" y="0">V</text><text x="97.95" y="0">)</text>
</g>
</svg>
</body></html>
